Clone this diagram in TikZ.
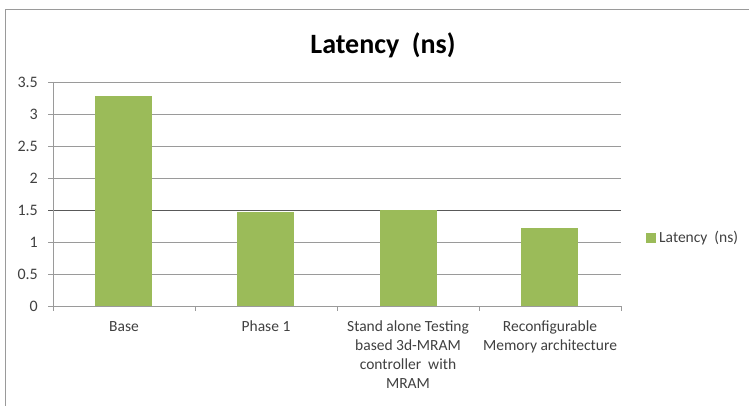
\documentclass[tikz,border=0pt]{standalone}
\usepackage{fontspec}
\setmainfont{Carlito}
\definecolor{bargreen}{HTML}{9BBB59}
\definecolor{gridgray}{HTML}{9A9A9A}
\definecolor{txtgray}{HTML}{404040}
\begin{document}
\begin{tikzpicture}[x=1pt,y=-1pt,
  grid/.style={draw=gridgray,line width=0.9pt},
  bar/.style={fill=bargreen,draw=none},
  ticklab/.style={anchor=east,font=\fontsize{16}{18}\selectfont,text=txtgray,inner sep=0pt},
  catlab/.style={anchor=north,align=center,font=\fontsize{15.5}{19}\selectfont,text=txtgray,inner sep=0pt}]
\useasboundingbox (0,0) rectangle (749,406);
\fill[white] (0,0) rectangle (749,406);
% outer frame
\draw[gridgray,line width=1pt] (5,406) -- (5,10) -- (749,10);
% title
\node[font=\fontsize{28}{32}\selectfont\bfseries] (title) at (383,45) {Latency\ \ (ns)};
% gridlines
\foreach \v/\lab in {0.5/0.5,1/1,2/2,2.5/2.5,3/3,3.5/3.5}{
  \draw[grid] (48,{306-\v*64}) -- (621,{306-\v*64});
  \node[ticklab] at (38,{306-\v*64}) {\lab};
}
\draw[draw=gray!70!black,line width=1pt] (48,210) -- (621,210);
\node[ticklab] at (38,210) {1.5};
\node[ticklab] at (38,306) {0};
% bars
\fill[bar] (95,306) rectangle (152,96);
\fill[bar] (237,306) rectangle (294,212);
\fill[bar] (380,306) rectangle (437,210);
\fill[bar] (521,306) rectangle (578,228);
% axes
\draw[grid] (53,82) -- (53,306);
\draw[grid] (48,306) -- (621,306);
\foreach \x in {53,195,337,479,621}{\draw[grid] (\x,306) -- (\x,311);}
% category labels
\node[catlab] (c1) at (124,321) {Base};
\node[catlab] (c2) at (266,321) {Phase 1};
\node[catlab] (c3) at (408,321) {Stand alone Testing\\based 3d-MRAM\\controller\ \ with\\MRAM};
\node[catlab] (c4) at (550,321) {Reconfigurable\\Memory architecture};
% legend
\fill[bar] (646,233) rectangle (656,243);
\node[anchor=west,inner sep=0pt,font=\fontsize{15.5}{18}\selectfont,text=txtgray] (leg) at (659,238) {Latency\ \ (ns)};
\end{tikzpicture}
\end{document}
